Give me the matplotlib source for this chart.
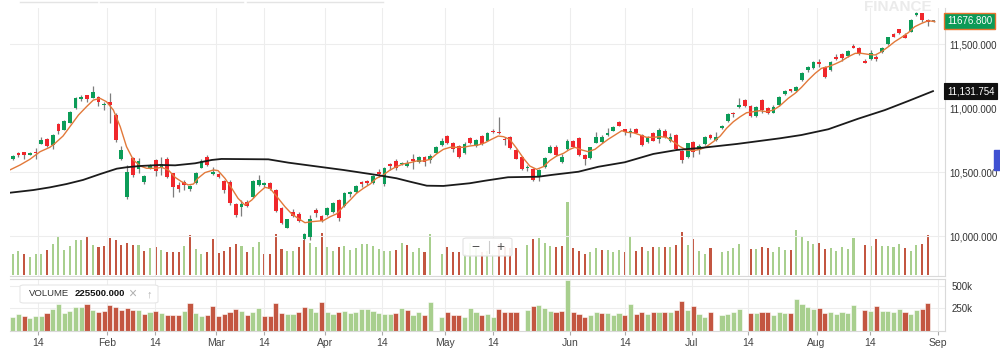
import numpy as np
import matplotlib
matplotlib.use("Agg")
import matplotlib.pyplot as plt
import matplotlib.transforms as mtransforms
from matplotlib.patches import FancyBboxPatch, Rectangle
from matplotlib.lines import Line2D

plt.rcParams['font.family'] = ['Liberation Sans', 'DejaVu Sans']

# daily OHLC, one entry per trading day (early Jan -> end of Aug)
opens = [10600, 10651, 10654, 10636, 10660, 10722, 10760, 10708, 10875, 10831,
         10885, 10997, 11068, 11099, 11081, 11083, 11026, 11049, 10943, 10604,
         10302, 10612, 10526, 10425, 10526, 10591, 10537, 10602, 10490, 10399,
         10425, 10365, 10412, 10534, 10615, 10482, 10484, 10432, 10425, 10247,
         10224, 10268, 10307, 10396, 10399, 10412, 10359, 10219, 10065, 10190,
         10172, 9977, 9995, 10201, 10156, 10161, 10190, 10281, 10234, 10326,
         10341, 10419, 10432, 10417, 10503, 10406, 10560, 10586, 10560, 10547,
         10599, 10581, 10615, 10594, 10651, 10711, 10781, 10724, 10703, 10651,
         10763, 10703, 10781, 10745, 10823, 10815, 10758, 10776, 10672, 10620,
         10529, 10526, 10469, 10537, 10651, 10693, 10578, 10677, 10742, 10768,
         10633, 10607, 10729, 10737, 10789, 10823, 10893, 10833, 10807, 10833,
         10789, 10737, 10807, 10755, 10823, 10745, 10789, 10664, 10615, 10737,
         10672, 10719, 10789, 10750, 10841, 10901, 10958, 11005, 11063, 11016,
         10937, 11063, 10997, 10963, 11023, 11109, 11146, 11133, 11219, 11297,
         11310, 11357, 11323, 11297, 11396, 11422, 11406, 11487, 11471, 11367,
         11380, 11396, 11435, 11497, 11575, 11614, 11570, 11596, 11724, 11740,
         11687, 11677]
highs = [10635, 10656, 10656, 10660, 10685, 10776, 10765, 10797, 10880, 10905,
         10976, 11083, 11102, 11104, 11169, 11094, 11049, 11115, 10958, 10703,
         10555, 10620, 10607, 10480, 10560, 10604, 10620, 10615, 10495, 10425,
         10438, 10399, 10500, 10602, 10633, 10537, 10490, 10440, 10438, 10255,
         10281, 10281, 10440, 10477, 10425, 10425, 10370, 10229, 10135, 10208,
         10190, 10026, 10161, 10216, 10164, 10229, 10266, 10290, 10340, 10354,
         10399, 10427, 10440, 10480, 10521, 10542, 10568, 10599, 10580, 10594,
         10641, 10625, 10625, 10641, 10705, 10763, 10786, 10735, 10711, 10732,
         10770, 10760, 10786, 10812, 10833, 10927, 10776, 10781, 10680, 10625,
         10555, 10530, 10521, 10620, 10711, 10711, 10641, 10755, 10750, 10773,
         10640, 10698, 10815, 10786, 10846, 10858, 10898, 10838, 10841, 10841,
         10797, 10781, 10812, 10841, 10833, 10802, 10797, 10672, 10729, 10745,
         10719, 10781, 10797, 10815, 10865, 10958, 10971, 11076, 11070, 11023,
         11016, 11073, 11005, 11026, 11094, 11140, 11150, 11172, 11284, 11331,
         11365, 11383, 11331, 11370, 11422, 11432, 11450, 11497, 11476, 11380,
         11453, 11414, 11476, 11557, 11583, 11620, 11583, 11692, 11752, 11745,
         11692, 11680]
lows = [10595, 10620, 10604, 10630, 10599, 10715, 10698, 10677, 10797, 10825,
        10880, 10992, 11055, 11050, 11081, 11016, 10984, 10885, 10737, 10594,
        10287, 10464, 10490, 10406, 10520, 10469, 10477, 10451, 10307, 10346,
        10359, 10354, 10405, 10530, 10547, 10477, 10451, 10333, 10240, 10151,
        10159, 10226, 10300, 10390, 10385, 10359, 10190, 10094, 10060, 10151,
        10109, 9969, 9969, 10151, 10112, 10156, 10182, 10120, 10226, 10307,
        10336, 10385, 10400, 10410, 10464, 10391, 10516, 10516, 10555, 10537,
        10521, 10570, 10547, 10568, 10646, 10703, 10715, 10659, 10607, 10641,
        10715, 10698, 10711, 10740, 10802, 10797, 10711, 10677, 10599, 10516,
        10511, 10430, 10433, 10530, 10646, 10625, 10573, 10672, 10693, 10628,
        10555, 10599, 10724, 10730, 10781, 10818, 10857, 10789, 10771, 10802,
        10703, 10730, 10740, 10724, 10765, 10737, 10672, 10568, 10610, 10620,
        10641, 10711, 10755, 10745, 10833, 10893, 10932, 11000, 11005, 10932,
        10932, 10963, 10950, 10958, 11016, 11100, 11125, 11127, 11214, 11284,
        11305, 11323, 11237, 11292, 11375, 11370, 11400, 11466, 11417, 11349,
        11375, 11370, 11430, 11492, 11552, 11578, 11544, 11591, 11719, 11674,
        11640, 11672]
closes = [10628, 10635, 10632, 10648, 10650, 10750, 10703, 10792, 10820, 10898,
          10971, 11078, 11086, 11068, 11128, 11047, 11034, 11023, 10750, 10672,
          10503, 10477, 10583, 10469, 10552, 10508, 10560, 10458, 10385, 10367,
          10399, 10391, 10495, 10586, 10557, 10503, 10458, 10359, 10255, 10161,
          10250, 10234, 10432, 10436, 10417, 10367, 10198, 10099, 10130, 10159,
          10120, 10013, 10135, 10182, 10117, 10221, 10255, 10138, 10333, 10341,
          10391, 10404, 10417, 10469, 10482, 10534, 10547, 10529, 10573, 10570,
          10586, 10620, 10581, 10628, 10698, 10745, 10724, 10682, 10615, 10716,
          10724, 10750, 10719, 10807, 10812, 10802, 10747, 10685, 10604, 10521,
          10542, 10438, 10516, 10612, 10693, 10633, 10615, 10745, 10698, 10633,
          10599, 10693, 10776, 10772, 10802, 10849, 10862, 10810, 10823, 10807,
          10711, 10776, 10745, 10828, 10771, 10776, 10677, 10594, 10724, 10659,
          10703, 10776, 10763, 10776, 10859, 10950, 10952, 11023, 11016, 10937,
          11010, 10984, 10958, 11005, 11088, 11135, 11132, 11167, 11276, 11318,
          11357, 11344, 11245, 11362, 11380, 11388, 11445, 11471, 11422, 11354,
          11427, 11383, 11471, 11552, 11557, 11583, 11549, 11687, 11740, 11687,
          11672, 11677]

nan = np.nan
# volume in thousands (nan = no volume printed that day)
volume_k = [158, 187, 165, 139, 165, 165, 194, 238, 294, 194,
            220, 268, 268, 297, 231, 213, 224, 286, 268, 231,
            250, 231, 231, 183, 205, 218, 194, 176, 176, 176,
            224, 305, 202, 165, 176, 275, 169, 187, 213, 238,
            224, 176, 213, 257, 165, 165, 312, 202, 187, 187,
            213, 268, 250, 213, 323, 213, 187, 213, 224, 194,
            205, 238, 238, 224, 202, 187, 187, 194, 250, 231,
            180, 205, 176, 316, nan, 158, 213, 176, 176, 158,
            250, 205, 176, 187, 158, 238, 213, 205, 205, nan,
            231, 275, 286, 250, 224, 213, 224, 561, 205, 187,
            158, 176, 205, 194, 194, 176, 194, 176, 294, 183,
            213, 183, 213, 213, 213, 213, 231, 330, 231, 275,
            187, 158, 206, nan, 176, 183, 206, 239, nan, 202,
            202, 213, 206, 176, 213, 194, 194, 349, 297, 261,
            242, 250, 202, 206, 187, 213, 202, 286, nan, 231,
            220, 275, 220, 220, 213, 239, 206, 187, 231, 239,
            305, nan]

# long moving average (black)
ma_slow_x = [-0.5, 3.6, 6.5, 9.4, 12.3, 15.3, 18.2, 19.9, 22.3, 25.8, 28.4, 31.9,
             34.8, 36.5, 44.7, 48.2, 52.9, 57.8, 63.6, 67.1, 69.5, 72.4, 75.3,
             79.9, 82.6, 86.6, 91.9, 94.2, 98.9, 102.4, 107.0, 112.0, 116.1,
             120.7, 126.6, 134.1, 137.9, 142.6, 147.8, 152.5, 156.6, 160.9]
ma_slow = [10338, 10359, 10380, 10406, 10438, 10484, 10526, 10537, 10547, 10555,
           10552, 10568, 10594, 10602, 10599, 10573, 10545, 10516, 10477, 10451,
           10424, 10393, 10391, 10412, 10432, 10459, 10463, 10477, 10502, 10541,
           10576, 10641, 10672, 10690, 10719, 10763, 10789, 10834, 10916, 10984,
           11055, 11131.754]

# short moving average (orange)
ma_fast_x = [-0.5, 1.3, 3.0, 4.8, 6.5, 7.4, 8.8, 10.0, 11.5, 12.9, 14.1, 15.3, 16.4,
             17.6, 18.8, 19.9, 21.1, 22.3, 23.4, 25.2,
             26.0, 27.2, 28.4, 29.5, 30.7, 31.6, 32.4, 33.6, 35.1, 35.9, 37.1, 38.3,
             39.4, 40.6, 41.8, 42.9, 44.1, 45.0, 46.2, 47.6, 48.8, 49.9, 51.1, 52.3,
             54.3, 55.5, 56.6, 57.8, 59.0, 60.1, 61.3, 62.5, 63.6, 64.8, 66.0, 67.1,
             68.3, 69.5, 70.6, 71.8, 73.0, 74.1, 75.3, 76.5, 77.6, 78.8, 79.9,
             81.4, 82.6, 83.7, 84.9, 85.8, 86.9, 88.1, 89.3, 90.4, 91.6, 92.8, 93.9,
             95.1, 96.3, 97.4, 98.3, 99.5, 100.6, 101.8, 103.0, 104.1, 105.3, 106.5,
             107.3, 108.5, 109.7, 110.8, 112.0, 113.2, 114.3, 115.5, 116.7, 117.8,
             119.0, 120.2, 121.3, 122.5, 123.7, 124.8, 126.0, 127.2, 128.3, 129.5,
             130.6, 131.8, 133.0, 134.1,
             135.6, 136.8, 137.9, 139.1, 140.3, 141.4, 142.6, 143.8, 144.9, 146.1,
             147.3, 148.4, 149.6, 150.8, 151.9, 153.1, 154.2, 155.4, 156.6, 157.7,
             158.9, 160.1, 161.2]
ma_fast = [10516, 10555, 10599, 10659, 10693, 10724, 10781, 10854, 10945, 11010,
           11062, 11075, 11049, 10984, 10854, 10698, 10594, 10547, 10529, 10529,
           10537, 10516, 10458, 10425, 10399, 10406, 10451, 10495, 10516, 10511,
           10451, 10372, 10294, 10242, 10281, 10333, 10380, 10372, 10307, 10229,
           10172, 10138, 10104, 10112,
           10120, 10151, 10172, 10229, 10281, 10333, 10372, 10406, 10451, 10477,
           10516, 10542, 10563, 10573, 10586, 10586, 10599, 10641, 10677, 10693,
           10693, 10693, 10703,
           10711, 10729, 10755, 10781, 10776, 10755, 10685, 10607, 10547, 10521,
           10542, 10589, 10625, 10646, 10677, 10693, 10672, 10659, 10677, 10719,
           10755, 10789, 10823,
           10810, 10807, 10789, 10771, 10771, 10776, 10771, 10737, 10698, 10672,
           10667, 10677, 10698, 10737, 10781, 10841, 10893, 10932, 10963, 10971,
           10979, 10971, 10984, 11016,
           11076, 11115, 11161, 11219, 11271, 11310, 11323, 11344, 11367, 11401,
           11427, 11427, 11419, 11414, 11440, 11479, 11518, 11552, 11589, 11635,
           11661, 11682, 11675]

tick_pos = [4.48, 16.54, 24.88, 35.54, 43.99, 54.6, 64.5, 75.58, 84.02, 97.43,
            107.04, 118.71, 128.6, 140.56, 149.88, 161.71]
tick_labels = ["14", "Feb", "14", "Mar", "14", "Apr", "14", "May", "14", "Jun",
               "14", "Jul", "14", "Aug", "14", "Sep"]
price_ticks = [10000, 10500, 11000, 11500]
vol_ticks = [250, 500]

last_price = 11676.8
last_slow = 11131.754
legend_volume = 225500.0

# colours
UP, DOWN, WICK = "#0c9c58", "#f0272c", "#7d7d7d"
VOL_UP, VOL_DOWN = "#a8cf8e", "#c35641"
GRID = "#ededed"

o = np.array(opens, float)
h = np.array(highs, float)
l = np.array(lows, float)
c = np.array(closes, float)
v = np.array(volume_k, float)
x = np.arange(len(c))

body_col = np.where(c > o, UP, np.where(c < o, DOWN, WICK))
vol_up = np.r_[True, c[1:] >= c[:-1]]
vol_col = np.where(vol_up, VOL_UP, VOL_DOWN)

W, H = 1000, 355
fig = plt.figure(figsize=(W / 100, H / 100), dpi=100)
fig.patch.set_facecolor("white")


def rect(left, top, right, bottom):
    return [left / W, 1 - bottom / H, (right - left) / W, (bottom - top) / H]


XMIN, XMAX = -0.47, 163.0

# volume overlay behind candles
axv = fig.add_axes(rect(10, 8, 945, 276))
axv.bar(x, v, width=0.36, color=vol_col, linewidth=0)
axv.set_xlim(XMIN, XMAX)
axv.set_ylim(-7.7, 2054)
axv.axis("off")

# price panel
ax = fig.add_axes(rect(10, 8, 945, 276))
ax.patch.set_visible(False)
ax.vlines(x, l, h, color=WICK, lw=0.9, zorder=2)
ax.bar(x, np.maximum(np.abs(c - o), 7), bottom=np.minimum(o, c), width=0.66,
       color=body_col, linewidth=0, zorder=3)
ax.plot(ma_fast_x, ma_fast, color="#e2793a", lw=1.0, zorder=4)
ax.plot(ma_slow_x, ma_slow, color="#1b1b1b", lw=1.3, zorder=4)
ax.set_xlim(XMIN, XMAX)
ax.set_ylim(9687.5, 11781.25)
ax.set_xticks(tick_pos)
ax.set_yticks(price_ticks)
ax.yaxis.tick_right()
ax.set_yticklabels([f"{p:,.3f}" for p in price_ticks])
ax.tick_params(axis="y", length=0, pad=3, labelsize=7, labelcolor="#333")
ax.tick_params(axis="x", length=0, labelbottom=False)
ax.grid(True, color=GRID, lw=0.8, zorder=0)
for s in ["left", "top"]:
    ax.spines[s].set_visible(False)
for s in ["right", "bottom"]:
    ax.spines[s].set_color("#d9d9d9")
    ax.spines[s].set_linewidth(0.8)

# volume panel
axl = fig.add_axes(rect(10, 279, 945, 331))
axl.bar(x, v, width=0.9, color=vol_col, edgecolor="white", linewidth=0.4)
axl.set_xlim(XMIN, XMAX)
axl.set_ylim(0, 572.5)
axl.set_xticks(tick_pos)
axl.set_xticklabels(tick_labels)
axl.set_yticks(vol_ticks)
axl.set_yticklabels([f"{t}k" for t in vol_ticks])
axl.yaxis.tick_right()
axl.tick_params(axis="y", length=0, pad=5, labelsize=7, labelcolor="#333")
axl.tick_params(axis="x", length=3, color="#aaaaaa", pad=2, labelsize=7.5,
                labelcolor="#444")
axl.grid(True, color=GRID, lw=0.8)
axl.set_axisbelow(True)
axl.spines["left"].set_visible(False)
for s in ["right", "bottom", "top"]:
    axl.spines[s].set_color("#d9d9d9")
    axl.spines[s].set_linewidth(0.8)

# last-value badges on the price scale
blend = mtransforms.blended_transform_factory(fig.transFigure, ax.transData)
ax.text(947 / W, last_price, f"{last_price:.3f}", transform=blend, ha="left",
        va="center", fontsize=7, color="white", clip_on=False, zorder=10,
        bbox=dict(boxstyle="square,pad=0.3", fc="#0b9a57", ec="#e8732e", lw=1.0))
ax.text(947 / W, last_slow, f"{last_slow:,.3f}", transform=blend, ha="left",
        va="center", fontsize=7, color="white", clip_on=False, zorder=10,
        bbox=dict(boxstyle="square,pad=0.3", fc="#111111", ec="#111111", lw=0.8))

# watermark and chart chrome
fig.text(898 / W, 1 - 7 / H, "FINANCE", ha="center", va="center", fontsize=11,
         fontweight="bold", color="#ebebeb")
for x0, x1 in [(20, 97), (100, 243), (247, 383)]:
    fig.add_artist(Line2D([x0 / W, x1 / W], [1 - 1.5 / H] * 2, color="#e4e4e4", lw=1))
fig.add_artist(Rectangle((994 / W, 1 - 170 / H), 6 / W, 20 / H,
                         transform=fig.transFigure, color="#4051d2"))

# zoom buttons
fig.add_artist(FancyBboxPatch((463 / W, 1 - 256 / H), 49 / W, 18 / H,
                              boxstyle="round,pad=0,rounding_size=0.004",
                              transform=fig.transFigure, fc=(1, 1, 1, 0.9),
                              ec="#e2e2e2", lw=0.8, zorder=20))
fig.add_artist(Line2D([489 / W] * 2, [1 - 241 / H, 1 - 253 / H], color="#cccccc",
                      lw=0.8, zorder=21))
fig.text(475 / W, 1 - 247 / H, "\u2212", ha="center", va="center", fontsize=10,
         color="#555", zorder=21)
fig.text(500 / W, 1 - 247 / H, "+", ha="center", va="center", fontsize=10,
         color="#555", zorder=21)

# volume legend
fig.add_artist(FancyBboxPatch((20 / W, 1 - 303 / H), 138 / W, 18 / H,
                              boxstyle="round,pad=0,rounding_size=0.004",
                              transform=fig.transFigure, fc="white",
                              ec="#e6e6e6", lw=0.8, zorder=20))
fig.text(29 / W, 1 - 294 / H, "VOLUME", ha="left", va="center", fontsize=6.8,
         color="#333", zorder=21)
fig.text(75 / W, 1 - 294 / H, f"{legend_volume:.3f}", ha="left", va="center",
         fontsize=6.8, fontweight="bold", color="#111", zorder=21)
fig.text(132 / W, 1 - 294 / H, "\u00d7", ha="center", va="center", fontsize=10,
         color="#b0b0b0", zorder=21)
fig.text(149 / W, 1 - 294 / H, "\u2191", ha="center", va="center", fontsize=8,
         color="#b0b0b0", zorder=21)

fig.savefig("out.png", dpi=100)
